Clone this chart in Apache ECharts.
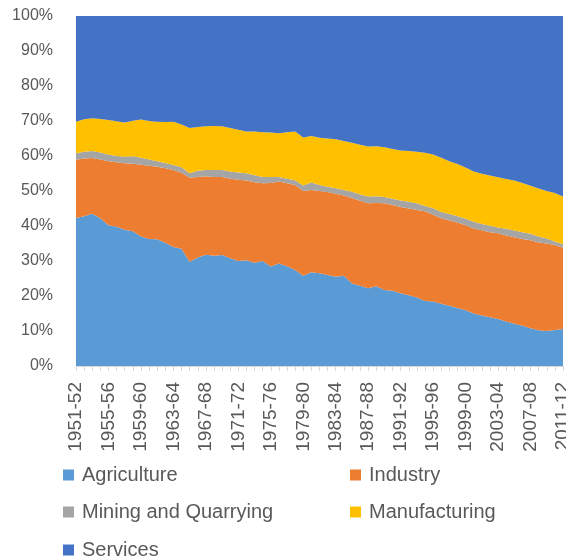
<!DOCTYPE html>
<html>
<head>
<meta charset="utf-8">
<script src="https://cdn.jsdelivr.net/npm/echarts@6/dist/echarts.min.js"></script>
<style>
html,body{margin:0;padding:0;background:#fff;overflow:hidden;}
#chart{width:566px;height:558px;}
</style>
</head>
<body>
<div id="chart"></div>
<script>
var categories = ["1951-52","1952-53","1953-54","1954-55","1955-56","1956-57","1957-58","1958-59","1959-60","1960-61",
"1961-62","1962-63","1963-64","1964-65","1965-66","1966-67","1967-68","1968-69","1969-70","1970-71",
"1971-72","1972-73","1973-74","1974-75","1975-76","1976-77","1977-78","1978-79","1979-80","1980-81",
"1981-82","1982-83","1983-84","1984-85","1985-86","1986-87","1987-88","1988-89","1989-90","1990-91",
"1991-92","1992-93","1993-94","1994-95","1995-96","1996-97","1997-98","1998-99","1999-00","2000-01",
"2001-02","2002-03","2003-04","2004-05","2005-06","2006-07","2007-08","2008-09","2009-10","2010-11","2011-12"];

var agriculture = [42.3,42.8,43.5,42.2,40.2,39.8,38.9,38.5,37.0,36.3,
36.2,35.2,34.0,33.5,29.8,31.0,31.8,31.5,31.7,30.8,
30.0,30.2,29.5,30.0,28.4,29.3,28.5,27.4,25.8,26.8,
26.5,26.0,25.5,25.8,23.6,22.9,22.2,22.8,21.7,21.5,
20.8,20.2,19.6,18.6,18.4,17.8,17.2,16.6,15.9,15.0,
14.4,13.9,13.4,12.7,12.1,11.5,10.8,10.2,10.0,10.3,10.6];

var industry = [16.6,16.5,15.9,16.8,18.3,18.4,19.0,19.3,20.5,20.9,
20.7,21.3,22.0,21.7,24.0,23.0,22.4,22.5,22.3,22.7,
23.2,22.8,23.0,22.2,23.9,23.4,23.7,24.3,24.2,23.5,
23.5,23.7,23.7,22.9,24.4,24.3,24.3,23.8,24.8,24.5,
24.6,24.8,25.0,25.6,24.8,24.4,24.4,24.4,24.3,24.3,
24.4,24.3,24.5,24.6,24.7,24.8,25.1,25.1,25.0,24.3,23.2];

var mining = [1.9,1.9,2.0,2.0,1.9,1.8,1.9,2.1,2.0,1.8,
1.6,1.5,1.4,1.6,1.3,1.8,1.8,2.0,2.0,2.1,
2.1,2.1,2.0,1.8,1.7,1.3,1.3,1.4,1.6,2.1,
1.7,1.5,1.6,1.6,1.8,1.8,1.9,1.9,1.8,1.8,
1.9,1.9,1.9,1.5,1.9,1.8,1.8,1.8,1.9,1.9,
1.8,1.9,1.7,1.9,1.9,1.9,1.9,1.7,1.4,1.0,1.0];

var manufacturing = [9.0,9.3,9.4,9.6,9.9,9.9,9.8,10.2,10.9,11.0,
11.3,11.7,12.4,12.2,12.9,12.5,12.5,12.6,12.5,12.4,
12.2,11.9,12.5,12.8,12.7,12.5,13.3,13.9,13.7,13.3,
13.5,13.8,14.0,14.0,14.0,14.2,14.3,14.3,14.2,14.2,
14.3,14.5,14.7,15.2,15.3,15.5,15.1,14.9,14.6,14.4,
14.3,14.3,14.3,14.2,14.3,14.1,13.7,13.7,13.6,13.8,13.6];

var services = [30.2,29.5,29.2,29.4,29.7,30.1,30.4,29.9,29.6,30.0,
30.2,30.3,30.2,31.0,32.0,31.7,31.5,31.4,31.5,32.0,
32.5,33.0,33.0,33.2,33.3,33.5,33.2,33.0,34.7,34.3,
34.8,35.0,35.2,35.7,36.2,36.8,37.3,37.2,37.5,38.0,
38.4,38.6,38.8,39.1,39.6,40.5,41.5,42.3,43.3,44.4,
45.1,45.6,46.1,46.6,47.0,47.7,48.5,49.3,50.0,50.6,51.6];

var seriesNames = ["Agriculture","Industry","Mining and Quarrying","Manufacturing","Services"];
var seriesColors = ["#5B9BD5","#ED7D31","#A5A5A5","#FFC000","#4472C4"];
var seriesData = [agriculture, industry, mining, manufacturing, services];

var FONT = "'Liberation Sans', Arial, sans-serif";
var chart = echarts.init(document.getElementById('chart'), null, {renderer:'canvas', width: 566, height: 558});

var series = seriesNames.map(function(n, k){
  return {
    name: n, type: 'line', stack: 'total', data: seriesData[k],
    symbol: 'none', smooth: false,
    lineStyle: {width: 0},
    areaStyle: {color: seriesColors[k], opacity: 1},
    itemStyle: {color: seriesColors[k]}
  };
});

var legendPos = [
  {left: 63, top: 465},
  {left: 350, top: 465},
  {left: 63, top: 502},
  {left: 350, top: 502},
  {left: 63, top: 540}
];
var legends = seriesNames.map(function(n, k){
  return {
    data: [{name: n, icon: 'rect'}],
    left: legendPos[k].left, top: legendPos[k].top,
    itemWidth: 11, itemHeight: 11, itemGap: 5,
    padding: 0,
    textStyle: {fontSize: 20, color: '#595959', fontFamily: FONT, padding: [0,0,0,3]},
    selectedMode: false
  };
});

chart.setOption({
  animation: false,
  backgroundColor: '#ffffff',
  color: seriesColors,
  grid: {left: 76, right: 3, top: 16, bottom: 192, containLabel: false, outerBoundsMode: 'none'},
  legend: legends,
  xAxis: {
    type: 'category', data: categories, boundaryGap: false,
    axisLine: {show: true, lineStyle: {color: '#D9D9D9', width: 1}},
    axisTick: {show: true, interval: 0, length: 5, lineStyle: {color: '#D9D9D9'}},
    axisLabel: {interval: 3, rotate: 90, fontSize: 19, color: '#595959', fontFamily: FONT, margin: 16}
  },
  yAxis: {
    type: 'value', min: 0, max: 100, interval: 10,
    axisLine: {show: false}, axisTick: {show: false},
    splitLine: {show: true, lineStyle: {color: '#D9D9D9'}},
    axisLabel: {formatter: '{value}%', fontSize: 16, color: '#595959', fontFamily: FONT, margin: 23}
  },
  series: series
});
</script>
</body>
</html>
